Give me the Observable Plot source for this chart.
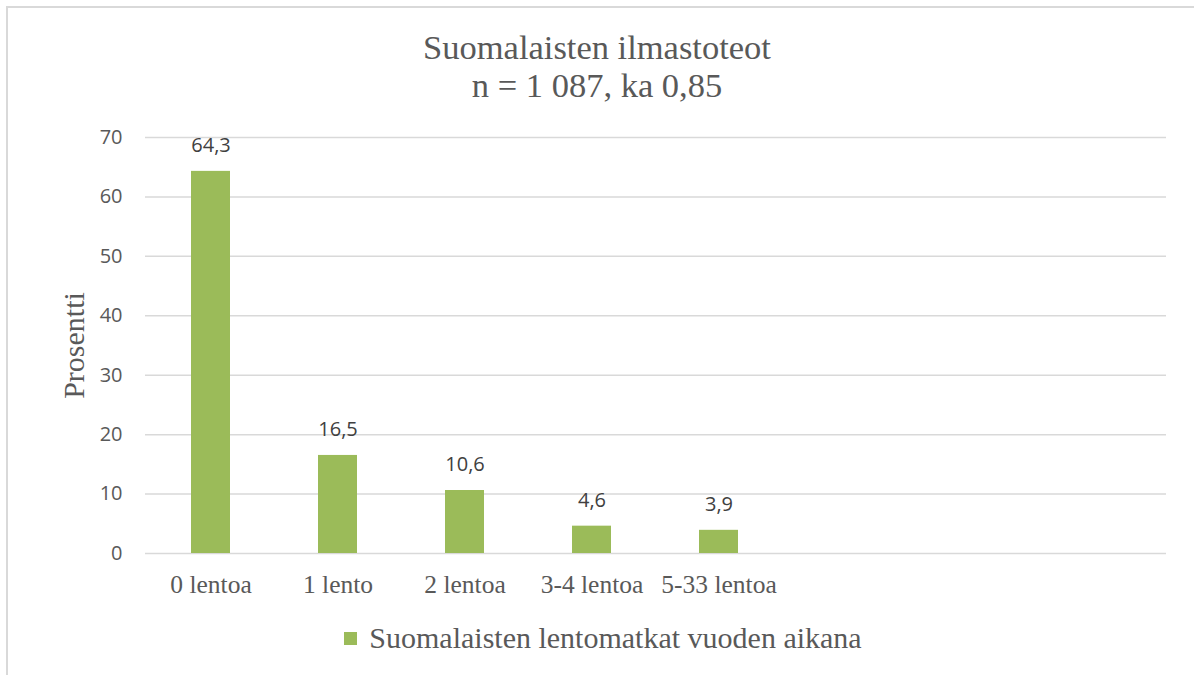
<!DOCTYPE html>
<html><head><meta charset="utf-8">
<script src="https://cdn.jsdelivr.net/npm/d3@7"></script>
<script src="https://cdn.jsdelivr.net/npm/@observablehq/plot@0.6"></script>
<style>
body{margin:0;background:#fff;width:1194px;height:675px;overflow:hidden;position:relative;}
#frame{position:absolute;left:6px;top:6px;width:1200px;height:700px;border-left:2px solid #d9d9d9;border-top:2px solid #d9d9d9;pointer-events:none;}
#title{height:110px;box-sizing:border-box;padding-top:28px;text-align:center;font-family:"Liberation Serif",serif;color:#595959;font-size:34.5px;line-height:38px;}
#chart svg{display:block;}
#legend{display:flex;justify-content:center;align-items:center;font-family:"Liberation Serif",serif;color:#595959;font-size:30px;height:56px;padding-left:12px;}
#legend .sw{width:13px;height:13px;background:#9BBB59;margin-right:12px;}
g[aria-label="y-axis label"] text{font-family:"Liberation Serif",serif;font-size:30px;}
</style>
</head><body>
<div id="frame"></div>
<div id="title">Suomalaisten ilmastoteot<br>n = 1 087, ka 0,85</div>
<div id="chart"></div>
<div id="legend"><span class="sw"></span><span>Suomalaisten lentomatkat vuoden aikana</span></div>
<script>
const categories = ["0 lentoa", "1 lento", "2 lentoa", "3-4 lentoa", "5-33 lentoa"];
const values = [64.3, 16.5, 10.6, 4.6, 3.9];
const emptySlots = [" ", "  ", "   "];
const yTicks = [0, 10, 20, 30, 40, 50, 60, 70];
const seriesName = "Suomalaisten lentomatkat vuoden aikana";

const data = categories.map((c, i) => ({cat: c, value: values[i]}));
const fmt = v => String(v).replace(".", ",");

const chart = Plot.plot({
  width: 1194,
  height: 500,
  marginTop: 27,
  marginBottom: 57,
  marginLeft: 145,
  marginRight: 28,
  style: {background: "#fff", color: "#595959"},
  x: {domain: [...categories, ...emptySlots], paddingInner: 0.69, paddingOuter: 0.345, label: null},
  y: {domain: [0, 70], label: null},
  marks: [
    Plot.gridY(yTicks, {stroke: "#d9d9d9", strokeOpacity: 1, strokeWidth: 1.5}),
    Plot.barY(data, {x: "cat", y: "value", fill: "#9BBB59"}),
    Plot.text(data, {x: "cat", y: "value", text: d => fmt(d.value), dy: -26, fontSize: 20, fill: "#404040", fontFamily: "Open Sans, sans-serif"}),
    Plot.axisY({ticks: yTicks, tickSize: 0, tickPadding: 23, fontSize: 20, fontFamily: "Open Sans, sans-serif", label: "Prosentti", labelAnchor: "center", labelArrow: "none", labelOffset: 83}),
    Plot.axisX({tickSize: 0, tickPadding: 21, fontSize: 25.5, fontFamily: "Liberation Serif, serif", tickFormat: d => d.trim(), label: null})
  ]
});
document.getElementById("chart").appendChild(chart);
</script>
</body></html>
